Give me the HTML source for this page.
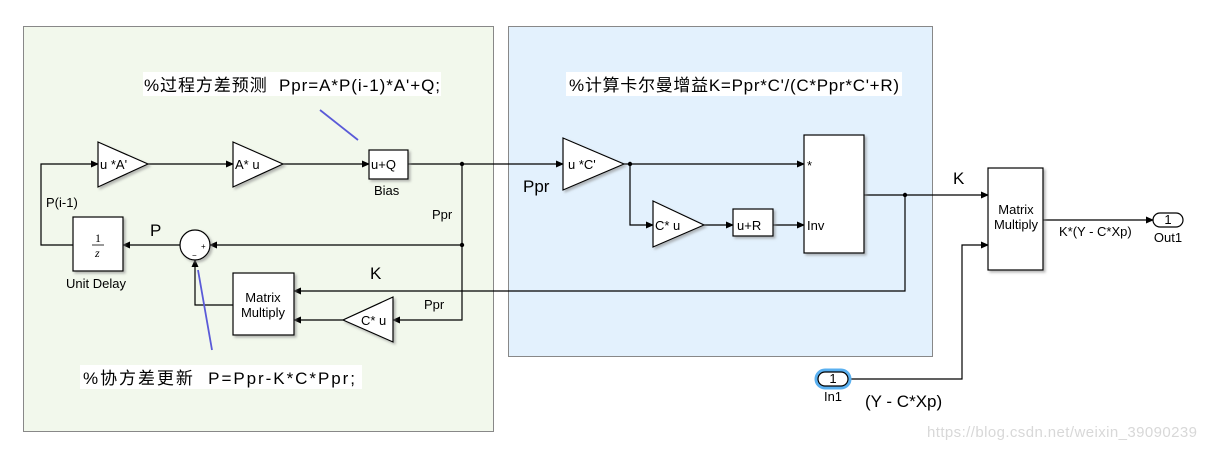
<!DOCTYPE html>
<html><head><meta charset="utf-8"><style>
body{margin:0;background:#fff}
svg{display:block}
text{font-family:"Liberation Sans","Noto Sans CJK SC",sans-serif;fill:#000;white-space:pre}
</style></head><body>
<svg width="1207" height="449" viewBox="0 0 1207 449" xmlns="http://www.w3.org/2000/svg">
<defs>
<marker id="a" markerWidth="8" markerHeight="8" refX="7" refY="4" orient="auto" markerUnits="userSpaceOnUse"><path d="M0,0.5 L8,4 L0,7.5 Z" fill="#000"/></marker>
<filter id="sh" x="-10%" y="-10%" width="130%" height="130%"><feDropShadow dx="2" dy="2" stdDeviation="1.2" flood-color="#888" flood-opacity="0.6"/></filter>
</defs>
<rect x="23.5" y="26.5" width="470" height="405" fill="#f2f8ec" stroke="#888"/>
<rect x="508.5" y="26.5" width="424" height="330" fill="#e3f1fd" stroke="#888"/>

<g stroke="#000" stroke-width="1.2" fill="none">
<path d="M148,164 H233" marker-end="url(#a)"/>
<path d="M283,164 H369" marker-end="url(#a)"/>
<path d="M408,164 H563" marker-end="url(#a)"/>
<path d="M462,164 V320 H393" marker-end="url(#a)"/>
<path d="M462,245 H210" marker-end="url(#a)"/>
<path d="M180,245 H123" marker-end="url(#a)"/>
<path d="M73,245 H41 V164 H98" marker-end="url(#a)"/>
<path d="M343,320 H294" marker-end="url(#a)"/>
<path d="M233,305 H195 V260" marker-end="url(#a)"/>
<path d="M624,164 H804" marker-end="url(#a)"/>
<path d="M630,164 V225 H653" marker-end="url(#a)"/>
<path d="M704,225 H733" marker-end="url(#a)"/>
<path d="M773,225 H804" marker-end="url(#a)"/>
<path d="M864,195 H988" marker-end="url(#a)"/>
<path d="M905,195 V291 H294" marker-end="url(#a)"/>
<path d="M1043,220 H1153" marker-end="url(#a)"/>
<path d="M848,379 H962 V245 H988" marker-end="url(#a)"/>
</g>
<g fill="#000"><circle cx="462" cy="164" r="2.2"/><circle cx="462" cy="245" r="2.2"/><circle cx="630" cy="164" r="2.2"/><circle cx="905" cy="195" r="2.2"/></g>

<g fill="#fff" stroke="#000" stroke-width="1.2" filter="url(#sh)">
<path d="M98,142 L148,164 L98,187 Z"/>
<path d="M233,142 L283,164 L233,187 Z"/>
<rect x="369" y="150" width="39" height="29"/>
<rect x="73" y="217" width="50" height="54"/>
<circle cx="195" cy="245" r="15"/>
<rect x="233" y="273" width="61" height="62"/>
<path d="M393,297 L343,320 L393,342 Z"/>
<path d="M563,138 L624,164 L563,190 Z"/>
<path d="M653,201 L704,225 L653,247 Z"/>
<rect x="733" y="209" width="40" height="27"/>
<rect x="804" y="135" width="60" height="118"/>
<rect x="988" y="168" width="55" height="102"/>
</g>
<rect x="1153" y="213" width="30" height="14" rx="7" fill="#fff" stroke="#000" stroke-width="1.2"/>
<rect x="816" y="370" width="34" height="18" rx="9" fill="none" stroke="#5ab0f0" stroke-width="3"/>
<rect x="818" y="372" width="30" height="14" rx="7" fill="#fff" stroke="#000" stroke-width="1.2"/>

<g stroke="#5a5ad8" stroke-width="1.8"><line x1="320" y1="110" x2="358" y2="140"/><line x1="198" y1="270" x2="212" y2="350"/></g>

<g font-size="13">
<text x="100" y="169">u *A'</text>
<text x="235" y="169">A* u</text>
<text x="371" y="169">u+Q</text>
<text x="374" y="195">Bias</text>
<text x="46" y="207">P(i-1)</text>
<text x="432" y="219">Ppr</text>
<text x="66" y="288">Unit Delay</text>
<text x="263" y="302" text-anchor="middle">Matrix</text>
<text x="263" y="317" text-anchor="middle">Multiply</text>
<text x="361" y="325">C* u</text>
<text x="424" y="309">Ppr</text>
<text x="568" y="169">u *C'</text>
<text x="655" y="230">C* u</text>
<text x="737" y="230">u+R</text>
<text x="807" y="230">Inv</text>
<text x="807" y="170">*</text>
<text x="1016" y="214" text-anchor="middle">Matrix</text>
<text x="1016" y="229" text-anchor="middle">Multiply</text>
<text x="1059" y="236">K*(Y - C*Xp)</text>
<text x="1168" y="224" text-anchor="middle">1</text>
<text x="1168" y="242" text-anchor="middle">Out1</text>
<text x="833" y="383" text-anchor="middle">1</text>
<text x="833" y="401" text-anchor="middle">In1</text>
</g>
<text x="95" y="242" font-size="12" style="font-family:'Liberation Serif',serif">1</text>
<line x1="92" y1="245" x2="104" y2="245" stroke="#000" stroke-width="0.8"/>
<text x="95" y="257" font-size="12" font-style="italic" style="font-family:'Liberation Serif',serif">z</text>
<text x="201" y="249" font-size="8">+</text>
<text x="192" y="258" font-size="8">−</text>
<g font-size="17">
<text x="150" y="236">P</text>
<text x="370" y="279">K</text>
<text x="523" y="192">Ppr</text>
<text x="953" y="184">K</text>
<text x="865" y="407">(Y - C*Xp)</text>
</g>
<rect x="143" y="72" width="298" height="24" fill="#fff"/>
<text x="144" y="91" font-size="17" textLength="296">%过程方差预测  Ppr=A*P(i-1)*A'+Q;</text>
<rect x="566" y="72" width="336" height="24" fill="#fff"/>
<text x="569" y="91" font-size="17" textLength="330">%计算卡尔曼增益K=Ppr*C'/(C*Ppr*C'+R)</text>
<rect x="80" y="365" width="282" height="24" fill="#fff"/>
<text x="83" y="384" font-size="17" textLength="272">%协方差更新  P=Ppr-K*C*Ppr;</text>
<text x="927" y="437" font-size="15" textLength="270" style="fill:#d8d8d8">https://blog.csdn.net/weixin_39090239</text>
</svg>
</body></html>
